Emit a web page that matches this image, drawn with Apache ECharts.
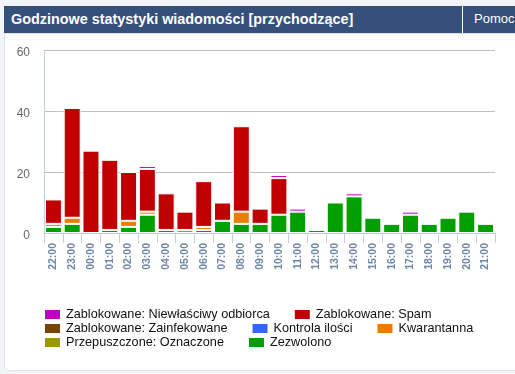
<!DOCTYPE html>
<html>
<head>
<meta charset="utf-8">
<script src="https://cdn.jsdelivr.net/npm/echarts@6/dist/echarts.min.js"></script>
<style>
html,body{margin:0;padding:0;width:515px;height:374px;overflow:hidden;background:#f3f4f7;font-family:"Liberation Sans",Arial,sans-serif;}
#panel{position:absolute;left:4px;top:33px;width:530px;height:336px;background:#fff;border:1px solid #dfe1e5;border-radius:0 0 5px 5px;}
#head{position:absolute;left:4px;top:6px;width:511px;height:27px;background:#36507c;}
#title{position:absolute;left:7px;top:0;line-height:27px;font-size:14.4px;font-weight:bold;color:#fff;white-space:nowrap;}
#sep{position:absolute;left:458px;top:0;width:1px;height:27px;background:#fff;}
#help{position:absolute;left:470px;top:0;line-height:26px;font-size:13px;color:#fff;white-space:nowrap;}
#chart{position:absolute;left:0;top:0;width:515px;height:374px;}
</style>
</head>
<body>
<div id="panel"></div>
<div id="head"><div id="title">Godzinowe statystyki wiadomości [przychodzące]</div><div id="sep"></div><div id="help">Pomoc</div></div>
<div id="chart"></div>
<script>
const categories = ['22:00','23:00','00:00','01:00','02:00','03:00','04:00','05:00','06:00','07:00','08:00','09:00','10:00','11:00','12:00','13:00','14:00','15:00','16:00','17:00','18:00','19:00','20:00','21:00'];
const niewlasciwy = [0,0,0,0,0,1,0,0,0,0,0,0,1,1,0,0,1,0,0,1,0,0,0,0];
const spam        = [8,36,27,23,16,14,12,6,15,6,28,5,12,0,0,0,0,0,0,0,0,0,0,0];
const zainfekowane= [0,0,0,0,0,0,0,0,0,0,0,0,0,0,0,0,0,0,0,0,0,0,0,0];
const kontrola    = [0,0,0,0,0,0,0,0,0,0,0,0,0,0,0,0,0,0,0,0,0,0,0,0];
const kwarantanna = [1,2,0,0,2,1,0,1,1,0,4,0,0,0,0,0,0,0,0,0,0,0,0,0];
const oznaczone   = [0,0,0,0,0,0,0,0,0,0,0,0,0,0,0,0,0,0,0,0,0,0,0,0];
const zezwolono   = [2,3,0,1,2,6,1,0,1,4,3,3,6,7,1,10,12,5,3,6,3,5,7,3];
const yTicks = [0,20,40,60];

const FONT = '"Liberation Sans", Arial, sans-serif';
// bottom-to-top stacking order
const defs = [
  {name:'Zezwolono', data:zezwolono, color:'#009f00'},
  {name:'Przepuszczone: Oznaczone', data:oznaczone, color:'#999900'},
  {name:'Kwarantanna', data:kwarantanna, color:'#e87d00'},
  {name:'Kontrola ilości', data:kontrola, color:'#3366ff'},
  {name:'Zablokowane: Zainfekowane', data:zainfekowane, color:'#774400'},
  {name:'Zablokowane: Spam', data:spam, color:'#c00000'},
  {name:'Zablokowane: Niewłaściwy odbiorca', data:niewlasciwy, color:'#c000c0'}
];
const series = defs.map(d => ({
  name: d.name, type: 'bar', stack: 'all', barWidth: 17,
  data: d.data.map(v => v === 0 ? null : v),
  itemStyle: {color: d.color, borderColor: '#fff', borderWidth: 1},
  emphasis: {disabled: true}, animation: false
}));
const legendBase = {
  left: 43, padding: 0, itemGap: 23, itemWidth: 17, itemHeight: 11, icon: 'rect',
  selectedMode: false,
  textStyle: {fontFamily: FONT, fontSize: 12.7, color: '#111', lineHeight: 12}
};
const chart = echarts.init(document.getElementById('chart'), null, {renderer: 'canvas'});
chart.setOption({
  animation: false,
  grid: {left: 44, top: 50, width: 451, height: 183, containLabel: false},
  legend: [
    Object.assign({}, legendBase, {top: 308, data: ['Zablokowane: Niewłaściwy odbiorca', 'Zablokowane: Spam']}),
    Object.assign({}, legendBase, {top: 322, data: ['Zablokowane: Zainfekowane', 'Kontrola ilości', 'Kwarantanna']}),
    Object.assign({}, legendBase, {top: 336, data: ['Przepuszczone: Oznaczone', 'Zezwolono']})
  ],
  xAxis: {
    type: 'category', data: categories, boundaryGap: true,
    axisLine: {lineStyle: {color: '#c0d0e0', width: 1}},
    axisTick: {show: true, length: 10, alignWithLabel: false, lineStyle: {color: '#c0d0e0'}},
    axisLabel: {rotate: 90, interval: 0, margin: 10, fontFamily: FONT, fontSize: 10.5, fontWeight: 'bold', color: '#6e86a6', padding: [0,0,7,0]},
    splitLine: {show: false}
  },
  yAxis: {
    type: 'value', min: yTicks[0], max: yTicks[yTicks.length-1], interval: 20,
    axisLine: {show: true, lineStyle: {color: '#c0d0e0'}},
    axisTick: {show: false},
    axisLabel: {margin: 14, fontFamily: FONT, fontSize: 12, color: '#666', verticalAlign: 'top', lineHeight: 6},
    splitLine: {lineStyle: {color: '#c0c0c0', width: 1}}
  },
  series: series
});
</script>
</body>
</html>
